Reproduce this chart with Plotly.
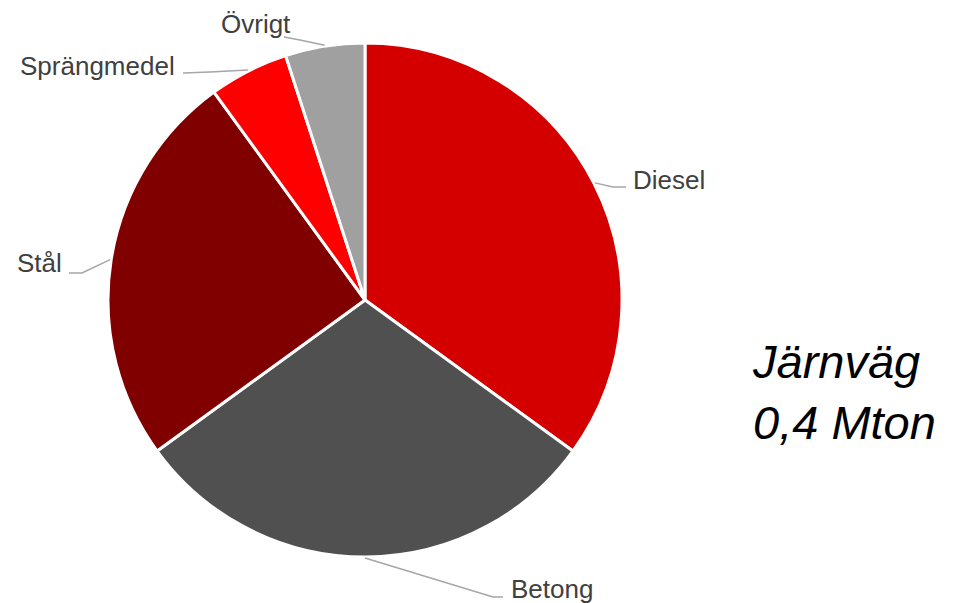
import math
import plotly.graph_objects as go

# ---- data ----
categories = ["Diesel", "Betong", "Stål", "Sprängmedel", "Övrigt"]
values = [35, 30, 25, 5, 5]
colors = ["#D40000", "#505050", "#800000", "#FF0000", "#A0A0A0"]
title_lines = ["Järnväg", "0,4 Mton"]

# ---- layout constants (pixels, window coordinates) ----
OFF = 8  # page body margin
W, H = 971 - OFF, 603 - OFF
CX, CY, R = 365, 300, 257
label_style = {
    "Diesel":      dict(elbow=(613, 187), end=(626, 187), text=(631, 180), xanchor="left"),
    "Betong":      dict(elbow=(493, 597), end=(503, 597), text=(509, 589), xanchor="left"),
    "Stål":        dict(elbow=(82, 273),  end=(69, 273),  text=(64, 263),  xanchor="right"),
    "Sprängmedel": dict(elbow=(210, 72),  end=(183, 73),  text=(177, 66),  xanchor="right"),
    "Övrigt":      dict(elbow=(300, 40),  end=(284, 37),  text=(256, 24),  xanchor="center"),
}

def px(x):
    return (x - OFF) / W

def py(y):
    return 1 - (y - OFF) / H

fig = go.Figure(go.Pie(
    labels=categories,
    values=values,
    sort=False,
    direction="clockwise",
    rotation=0,
    textinfo="none",
    hoverinfo="label+percent",
    marker=dict(colors=colors, line=dict(color="white", width=3)),
    domain=dict(x=[px(CX - R), px(CX + R)], y=[py(CY + R), py(CY - R)]),
    showlegend=False,
))

shapes = []
annotations = []
total = sum(values)
cum = 0
for cat, v in zip(categories, values):
    mid = (cum + v / 2) / total * 2 * math.pi
    cum += v
    ax = CX + (R + 1) * math.sin(mid)
    ay = CY - (R + 1) * math.cos(mid)
    st = label_style[cat]
    ex, ey = st["elbow"]
    fx, fy = st["end"]
    shapes.append(dict(
        type="path", xref="paper", yref="paper",
        path=f"M {px(ax)},{py(ay)} L {px(ex)},{py(ey)} L {px(fx)},{py(fy)}",
        line=dict(color="#A6A6A6", width=1.5),
    ))
    tx, ty = st["text"]
    annotations.append(dict(
        text=cat, x=px(tx), y=py(ty), xref="paper", yref="paper",
        xanchor=st["xanchor"], yanchor="middle", showarrow=False,
        font=dict(family="Liberation Sans, Arial", size=26, color="#404040"),
    ))

annotations.append(dict(
    text="<br>".join(title_lines), x=px(750), y=py(392), xref="paper", yref="paper",
    xanchor="left", yanchor="middle", align="left", showarrow=False,
    font=dict(family="Liberation Sans, Arial", size=47, color="#000000", style="italic"),
))

fig.update_layout(
    width=W, height=H,
    margin=dict(l=0, r=0, t=0, b=0),
    paper_bgcolor="white", plot_bgcolor="white",
    shapes=shapes, annotations=annotations,
)

fig.write_html("out.html")
